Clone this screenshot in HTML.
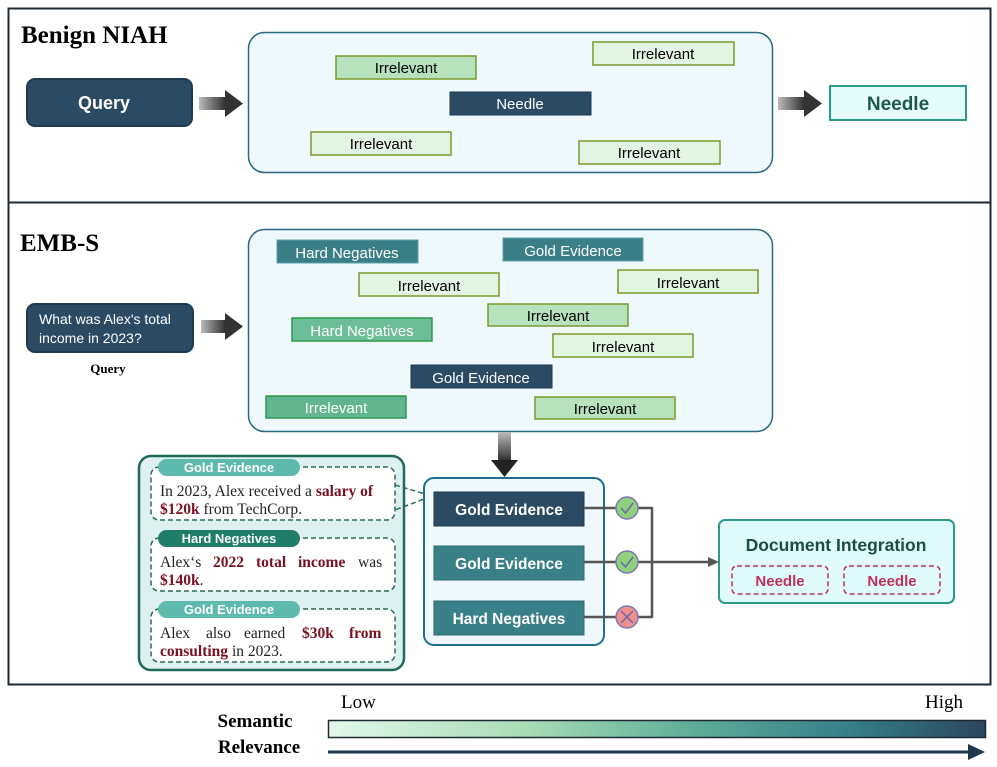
<!DOCTYPE html>
<html><head><meta charset="utf-8"><style>
html,body{margin:0;padding:0;background:#fff}
svg{display:block}
.s{font-family:"Liberation Sans",sans-serif}
.r{font-family:"Liberation Serif",serif}
</style></head><body>
<svg width="997" height="767" viewBox="0 0 997 767" xmlns="http://www.w3.org/2000/svg">
<defs>
<linearGradient id="ag" x1="0" x2="1"><stop offset="0" stop-color="#bbb"/><stop offset="1" stop-color="#333"/></linearGradient>
<linearGradient id="agv" x1="0" y1="0" x2="0" y2="1"><stop offset="0" stop-color="#bbb"/><stop offset="1" stop-color="#333"/></linearGradient>
<linearGradient id="bar" x1="0" x2="1"><stop offset="0" stop-color="#e2f7ea"/><stop offset="0.3" stop-color="#a7dcb6"/><stop offset="0.55" stop-color="#5fae98"/><stop offset="0.8" stop-color="#357e88"/><stop offset="1" stop-color="#2a4560"/></linearGradient>
</defs>
<rect x="8.5" y="8.5" width="982" height="194" fill="#fff" stroke="#1e2a33" stroke-width="2"/>
<rect x="8.5" y="202.5" width="982" height="482" fill="#fff" stroke="#1e2a33" stroke-width="2"/>
<text x="21" y="43" class="r" font-size="25" font-weight="bold">Benign NIAH</text>
<text x="20" y="251" class="r" font-size="25" font-weight="bold">EMB-S</text>

<rect x="27" y="79" width="165" height="47" rx="8" fill="#2b4a63" stroke="#1d3a50" stroke-width="2"/>
<text x="104" y="109" class="s" font-size="18" font-weight="bold" fill="#fff" text-anchor="middle">Query</text>
<rect x="199" y="97" width="26" height="13" fill="url(#ag)"/><polygon points="225,90 243,103.5 225,117" fill="#333"/>
<rect x="248.5" y="32.5" width="524" height="140" rx="16" fill="#eef8fd" stroke="#2b6682" stroke-width="1.5"/>
<rect x="336" y="56" width="140" height="23" fill="#b6e2bd" stroke="#7a9a2a" stroke-width="1.5"/>
<text x="406" y="73" class="s" font-size="15" text-anchor="middle">Irrelevant</text>
<rect x="593" y="42" width="141" height="23" fill="#e2f5e3" stroke="#7a9a2a" stroke-width="1.5"/>
<text x="663" y="59" class="s" font-size="15" text-anchor="middle">Irrelevant</text>
<rect x="450" y="92" width="141" height="23" fill="#2b4a63" stroke="#1d3a50"/>
<text x="520" y="109" class="s" font-size="15" fill="#fff" text-anchor="middle">Needle</text>
<rect x="311" y="132" width="140" height="23" fill="#e2f5e3" stroke="#7a9a2a" stroke-width="1.5"/>
<text x="381" y="149" class="s" font-size="15" text-anchor="middle">Irrelevant</text>
<rect x="579" y="141" width="141" height="23" fill="#e2f5e3" stroke="#7a9a2a" stroke-width="1.5"/>
<text x="649" y="158" class="s" font-size="15" text-anchor="middle">Irrelevant</text>
<rect x="778" y="97" width="26" height="13" fill="url(#ag)"/><polygon points="804,90 822,103.5 804,117" fill="#333"/>
<rect x="830" y="86" width="136" height="34" fill="#e6fcfc" stroke="#2a9a8a" stroke-width="2"/>
<text x="898" y="110" class="s" font-size="19" font-weight="bold" fill="#1b5a4a" text-anchor="middle">Needle</text>

<rect x="27" y="304" width="166" height="48" rx="8" fill="#2b4a63" stroke="#1d3a50" stroke-width="2"/>
<text x="39" y="324" class="s" font-size="14" fill="#fff">What was Alex's total</text>
<text x="39" y="343" class="s" font-size="14" fill="#fff">income in 2023?</text>
<text x="108" y="373" class="r" font-size="13" font-weight="bold" text-anchor="middle">Query</text>
<rect x="201" y="320" width="24" height="13" fill="url(#ag)"/><polygon points="225,313 243,326.5 225,340" fill="#333"/>
<rect x="248.5" y="229.5" width="524" height="202" rx="16" fill="#eef8fd" stroke="#2b6682" stroke-width="1.5"/>
<rect x="277" y="240" width="141" height="23" fill="#3b7f86" stroke="#5aa0a8"/>
<text x="347" y="258" class="s" font-size="15" fill="#fff" text-anchor="middle">Hard Negatives</text>
<rect x="503" y="238" width="140" height="23" fill="#3b7f86" stroke="#5aa0a8"/>
<text x="573" y="256" class="s" font-size="15" fill="#fff" text-anchor="middle">Gold Evidence</text>
<rect x="359" y="273" width="140" height="23" fill="#e2f5e3" stroke="#7a9a2a" stroke-width="1.5"/>
<text x="429" y="291" class="s" font-size="15" text-anchor="middle">Irrelevant</text>
<rect x="618" y="270" width="140" height="23" fill="#e2f5e3" stroke="#7a9a2a" stroke-width="1.5"/>
<text x="688" y="288" class="s" font-size="15" text-anchor="middle">Irrelevant</text>
<rect x="292" y="318" width="140" height="23" fill="#6cbd98" stroke="#2f9a4a" stroke-width="1.5"/>
<text x="362" y="336" class="s" font-size="15" fill="#fff" text-anchor="middle">Hard Negatives</text>
<rect x="488" y="304" width="140" height="22" fill="#b6e2bd" stroke="#7a9a2a" stroke-width="1.5"/>
<text x="558" y="321" class="s" font-size="15" text-anchor="middle">Irrelevant</text>
<rect x="553" y="334" width="140" height="23" fill="#e2f5e3" stroke="#7a9a2a" stroke-width="1.5"/>
<text x="623" y="352" class="s" font-size="15" text-anchor="middle">Irrelevant</text>
<rect x="411" y="365" width="141" height="23" fill="#2b4a63" stroke="#1d3a50"/>
<text x="481" y="383" class="s" font-size="15" fill="#fff" text-anchor="middle">Gold Evidence</text>
<rect x="266" y="396" width="140" height="22" fill="#63b58f" stroke="#2f9a4a" stroke-width="1.5"/>
<text x="336" y="413" class="s" font-size="15" fill="#fff" text-anchor="middle">Irrelevant</text>
<rect x="535" y="397" width="140" height="22" fill="#b6e2bd" stroke="#7a9a2a" stroke-width="1.5"/>
<text x="605" y="414" class="s" font-size="15" text-anchor="middle">Irrelevant</text>

<rect x="498" y="432" width="13" height="28" fill="url(#agv)"/><polygon points="491,460 518,460 504.5,477" fill="#222"/>

<rect x="139" y="456" width="265" height="214" rx="12" fill="#dff0f0" stroke="#1f6b5a" stroke-width="2.5"/>
<g fill="#fff" stroke="#2a6a55" stroke-width="1.5" stroke-dasharray="5,3">
<rect x="151" y="467" width="244" height="53" rx="8"/>
<rect x="151" y="538" width="244" height="53" rx="8"/>
<rect x="151" y="609" width="244" height="53" rx="8"/>
</g>
<rect x="158" y="459" width="142" height="17" rx="8.5" fill="#5dbaad"/>
<text x="229" y="472" class="s" font-size="13" font-weight="bold" fill="#fff" text-anchor="middle">Gold Evidence</text>
<rect x="158" y="530" width="142" height="17" rx="8.5" fill="#1f7d6a"/>
<text x="229" y="543" class="s" font-size="13" font-weight="bold" fill="#fff" text-anchor="middle">Hard Negatives</text>
<rect x="158" y="601" width="142" height="17" rx="8.5" fill="#5dbaad"/>
<text x="229" y="614" class="s" font-size="13" font-weight="bold" fill="#fff" text-anchor="middle">Gold Evidence</text>
<g class="r" font-size="15.5" fill="#222">
<text x="160" y="496">In 2023, Alex received a <tspan fill="#7a1020" font-weight="bold">salary of</tspan></text>
<text x="160" y="514"><tspan fill="#7a1020" font-weight="bold">$120k</tspan> from TechCorp.</text>
<text y="567"><tspan x="160">Alex‘s</tspan><tspan x="213" fill="#7a1020" font-weight="bold">2022</tspan><tspan x="256" fill="#7a1020" font-weight="bold">total</tspan><tspan x="298" fill="#7a1020" font-weight="bold">income</tspan><tspan x="358">was</tspan></text>
<text x="160" y="585"><tspan fill="#7a1020" font-weight="bold">$140k</tspan>.</text>
<text y="638"><tspan x="160">Alex</tspan><tspan x="206">also</tspan><tspan x="244">earned</tspan><tspan x="302" fill="#7a1020" font-weight="bold">$30k</tspan><tspan x="349" fill="#7a1020" font-weight="bold">from</tspan></text>
<text x="160" y="656"><tspan fill="#7a1020" font-weight="bold">consulting</tspan> in 2023.</text>
</g>
<polyline points="395,485 432,496 395,510" fill="none" stroke="#2a6a55" stroke-width="1.5" stroke-dasharray="5,3"/>

<rect x="424" y="478" width="180" height="167" rx="10" fill="#eef8fd" stroke="#1f6e8f" stroke-width="2"/>
<rect x="434" y="492" width="150" height="34" fill="#2b4a63" stroke="#1d3a50"/>
<text x="509" y="515" class="s" font-size="15.5" font-weight="bold" fill="#fff" text-anchor="middle">Gold Evidence</text>
<rect x="434" y="546" width="150" height="34" fill="#3a8088" stroke="#2a6a72"/>
<text x="509" y="569" class="s" font-size="15.5" font-weight="bold" fill="#fff" text-anchor="middle">Gold Evidence</text>
<rect x="434" y="601" width="150" height="34" fill="#3a8088" stroke="#2a6a72"/>
<text x="509" y="624" class="s" font-size="15.5" font-weight="bold" fill="#fff" text-anchor="middle">Hard Negatives</text>
<g stroke="#555" stroke-width="2.5" fill="none">
<line x1="584" y1="508" x2="652" y2="508"/><line x1="584" y1="562" x2="652" y2="562"/><line x1="584" y1="617" x2="652" y2="617"/>
<line x1="652" y1="507" x2="652" y2="618"/><line x1="652" y1="562" x2="710" y2="562"/>
</g>
<polygon points="708,557 719,562 708,567" fill="#555"/>
<circle cx="627" cy="508" r="11" fill="#8fd17a" stroke="#7a78b8" stroke-width="1.5"/>
<polyline points="621,508 625.5,513 633,503" fill="none" stroke="#6a68a8" stroke-width="1.5"/>
<circle cx="627" cy="562" r="11" fill="#8fd17a" stroke="#7a78b8" stroke-width="1.5"/>
<polyline points="621,562 625.5,567 633,557" fill="none" stroke="#6a68a8" stroke-width="1.5"/>
<circle cx="627" cy="617" r="11" fill="#f0908c" stroke="#7a78b8" stroke-width="1.5"/>
<path d="M621,611 L633,623 M633,611 L621,623" stroke="#6a68a8" stroke-width="1.5"/>
<rect x="719" y="520" width="235" height="83" rx="6" fill="#e0fbfb" stroke="#2a9a8a" stroke-width="2"/>
<text x="836" y="551" class="s" font-size="17.5" font-weight="bold" fill="#1b4d40" text-anchor="middle">Document Integration</text>
<rect x="732" y="566" width="96" height="28" rx="5" fill="none" stroke="#c0305a" stroke-width="1.5" stroke-dasharray="5,3"/>
<text x="780" y="586" class="s" font-size="15" font-weight="bold" fill="#c0305a" text-anchor="middle">Needle</text>
<rect x="844" y="566" width="96" height="28" rx="5" fill="none" stroke="#c0305a" stroke-width="1.5" stroke-dasharray="5,3"/>
<text x="892" y="586" class="s" font-size="15" font-weight="bold" fill="#c0305a" text-anchor="middle">Needle</text>

<text x="341" y="708" class="r" font-size="19">Low</text>
<text x="925" y="708" class="r" font-size="19">High</text>
<text x="255" y="727" class="r" font-size="19" font-weight="bold" text-anchor="middle">Semantic</text>
<text x="259" y="753" class="r" font-size="19" font-weight="bold" text-anchor="middle">Relevance</text>
<rect x="328.5" y="720.5" width="657" height="17" fill="url(#bar)" stroke="#1e2a33" stroke-width="1.5"/>
<line x1="328" y1="752" x2="975" y2="752" stroke="#1e3650" stroke-width="3"/>
<polygon points="968,744 985,752 968,760" fill="#1e3650"/>
</svg>
</body></html>
